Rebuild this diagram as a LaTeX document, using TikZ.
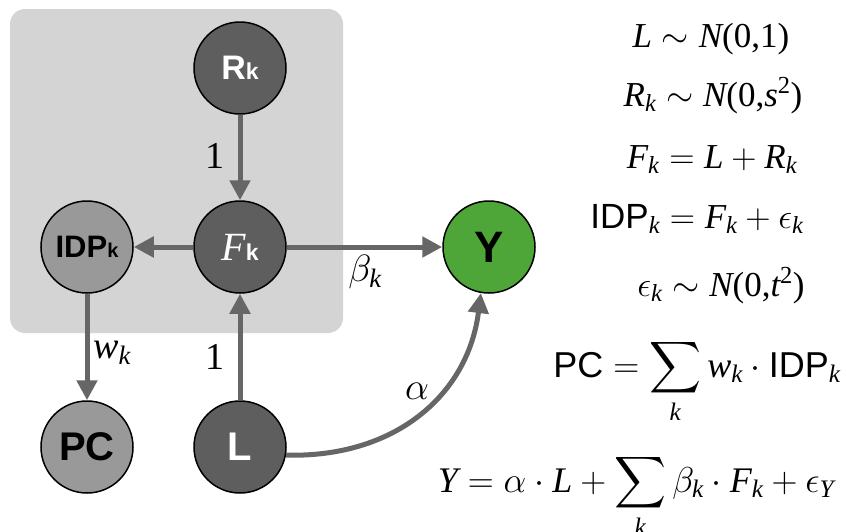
\documentclass[tikz,border=0pt]{standalone}
\usepackage{fix-cm}
\usepackage{amsmath}
\usepackage{fontspec}
\setmainfont{Liberation Serif}
\setsansfont{Liberation Sans}
\DeclareFontShape{OMX}{cmex}{m}{n}{<->s*[1]cmex10}{}
\usetikzlibrary{arrows.meta}
\definecolor{ndark}{RGB}{94,94,94}
\definecolor{nlight}{RGB}{153,153,153}
\definecolor{ngreen}{RGB}{78,165,56}
\definecolor{boxgray}{RGB}{212,212,212}
\definecolor{arrgray}{RGB}{102,102,102}
\tikzset{
  nodebase/.style={circle, draw=black, line width=1.5pt, minimum size=92pt, inner sep=0pt},
  darknode/.style={nodebase, fill=ndark, text=white},
  lightnode/.style={nodebase, fill=nlight, text=black},
  greennode/.style={nodebase, fill=ngreen, text=black},
  arr/.style={draw=arrgray, line width=5pt, -{Triangle[length=20pt,width=20pt]}},
  lbl/.style={font=\fontsize{38}{40}\selectfont, inner sep=0pt},
  eqn/.style={font=\fontsize{35}{38}\selectfont, inner sep=0pt, anchor=base},
  eqnbig/.style={font=\fontsize{36}{40}\selectfont, inner sep=0pt, anchor=base},
}
\newcommand{\mi}[1]{\mathit{#1}}
\newcommand{\tr}[1]{\textrm{#1}}
\newcommand{\dist}{\mathrel{\sim}}
\newcommand{\bigsf}[1]{{\sffamily\bfseries\fontsize{40}{40}\selectfont #1}}
\newcommand{\subsf}[1]{{\sffamily\bfseries\fontsize{23}{23}\selectfont #1}}
\begin{document}
\begin{tikzpicture}[x=1pt,y=1pt]
\useasboundingbox (0,0) rectangle (846,-531);
\fill[white] (0,0) rectangle (846,-531);
% plate
\fill[boxgray, rounded corners=15pt] (10,-9) rectangle (343,-333);
% nodes
\node[darknode] (R) at (240,-68) {{\sffamily\bfseries\fontsize{34}{34}\selectfont R}\subsf{k}};
\node[darknode] (F) at (240,-247) {{\fontsize{40}{40}\selectfont\textit{F}}\subsf{k}};
\node[lightnode] (I) at (87,-247) {{\sffamily\bfseries\fontsize{31}{31}\selectfont IDP}{\sffamily\bfseries\fontsize{20}{20}\selectfont k}};
\node[lightnode] (P) at (87,-447) {\bigsf{PC}};
\node[darknode] (L) at (240,-447) {\bigsf{L}};
\node[greennode] (Y) at (489,-247) {{\sffamily\bfseries\fontsize{44}{44}\selectfont Y}};
% edges
\draw[arr] (R) -- (F);
\draw[arr] (F) -- (I);
\draw[arr] (F) -- (Y);
\draw[arr] (I) -- (P);
\draw[arr] (L) -- (F);
\draw[arr] (L.-10) .. controls (395,-458) and (468,-395) .. (Y.-100);
% edge labels
\node[lbl] (l1) at (215,-156) {\tr{1}};
\node[lbl] (l2) at (215,-357) {\tr{1}};
\node[lbl] (lw) at (112,-353) {$\mi{w}_{\mi{k}}$};
\node[lbl] (lb) at (365,-272) {$\beta_{\mi{k}}$};
\node[lbl] (la) at (417,-391) {$\alpha$};
% equations
\node[eqn] (e1) at (711,-47) {$\mi{L} \dist \mi{N}\tr{(0,1)}$};
\node[eqn] (e2) at (713,-106) {$\mi{R}_{\mi{k}} \dist \mi{N}\tr{(0,}\mi{s}^{\tr{2}}\tr{)}$};
\node[eqn] (e3) at (712,-168) {$\mi{F}_{\mi{k}} = \mi{L} + \mi{R}_{\mi{k}}$};
\node[eqn] (e4) at (697,-228) {$\textsf{IDP}_{\mi{k}} = \mi{F}_{\mi{k}} + \epsilon_{\mi{k}}$};
\node[eqn] (e5) at (721,-296) {$\epsilon_{\mi{k}} \dist \mi{N}\tr{(0,}\mi{t}^{\tr{2}}\tr{)}$};
\node[eqnbig] (e6) at (697,-377) {$\textsf{PC} = \displaystyle\sum_{\mi{k}} \mi{w}_{\mi{k}} \cdot \textsf{IDP}_{\mi{k}}$};
\node[eqnbig] (e7) at (636,-492) {$\mi{Y} = \alpha \cdot \mi{L} + \displaystyle\sum_{\mi{k}} \beta_{\mi{k}} \cdot \mi{F}_{\mi{k}} + \epsilon_{\mi{Y}}$};
\end{tikzpicture}
\end{document}
